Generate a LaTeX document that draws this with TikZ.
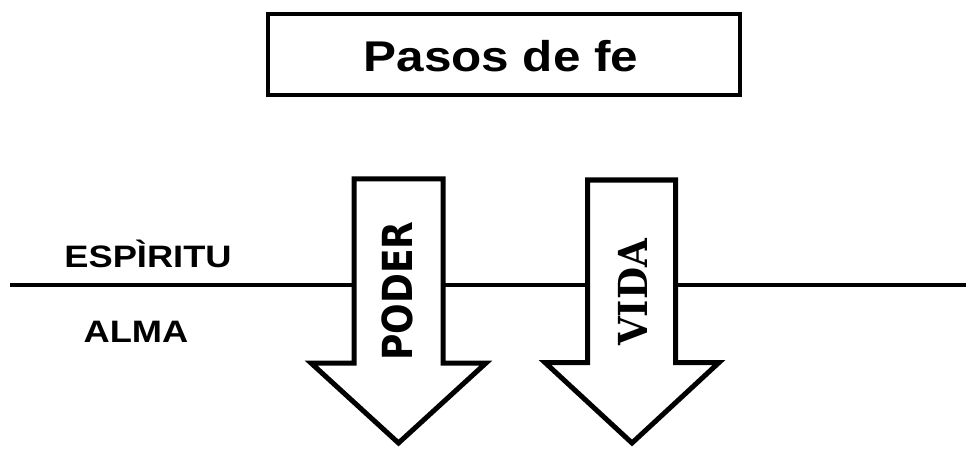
\documentclass[tikz,border=0pt]{standalone}
\usepackage{graphicx}
\usepackage{fontspec}
\setmainfont{Liberation Sans}
\newfontfamily\poderfont{DejaVu Sans}
\newfontfamily\vidafont{DejaVu Serif}
\begin{document}
\begin{tikzpicture}[x=1pt,y=-1pt,line join=miter]
\useasboundingbox (0,0) rectangle (968,449);
\tikzset{
  bigarrow/.style={draw=black,line width=5pt,fill=white},
  sidelabel/.style={anchor=base,inner sep=0pt,font=\fontsize{31}{31}\selectfont\bfseries},
  arrowlabel/.style={anchor=base,rotate=90,inner sep=0pt}
}
\node[draw,line width=4pt,minimum width=472pt,minimum height=81pt,inner sep=0pt] (titlebox) at (504,54.5) {};
\node[anchor=base,inner sep=0pt,font=\fontsize{43}{43}\selectfont\bfseries] (title) at (501,72) {\scalebox{1.15}[1]{Pasos de fe}};
\coordinate (lineL) at (10,284.5);
\coordinate (lineR) at (966,284.5);
\draw[line width=4pt] (lineL) -- (lineR);
\draw[bigarrow] (354,179) -- (443,179) -- (443,363) -- (486,363) -- (398.5,443) -- (311,363) -- (354,363) -- cycle;
\draw[bigarrow] (587.5,180) -- (675.5,180) -- (675.5,362.5) -- (719,362.5) -- (632,443) -- (545,362.5) -- (587.5,362.5) -- cycle;
\node[sidelabel] (espiritu) at (148,267) {\scalebox{1.17}[1]{ESPÌRITU}};
\node[sidelabel] (alma) at (136,342) {\scalebox{1.17}[1]{ALMA}};
\node[arrowlabel,font=\poderfont\fontsize{36}{36}\selectfont\bfseries] (poder) at (412,291) {\scalebox{1}[1.15]{PODER}};
\node[arrowlabel,font=\vidafont\fontsize{37}{37}\selectfont\bfseries] (vida) at (647,292.5) {\scalebox{1}[1.08]{VIDA}};
\end{tikzpicture}
\end{document}
